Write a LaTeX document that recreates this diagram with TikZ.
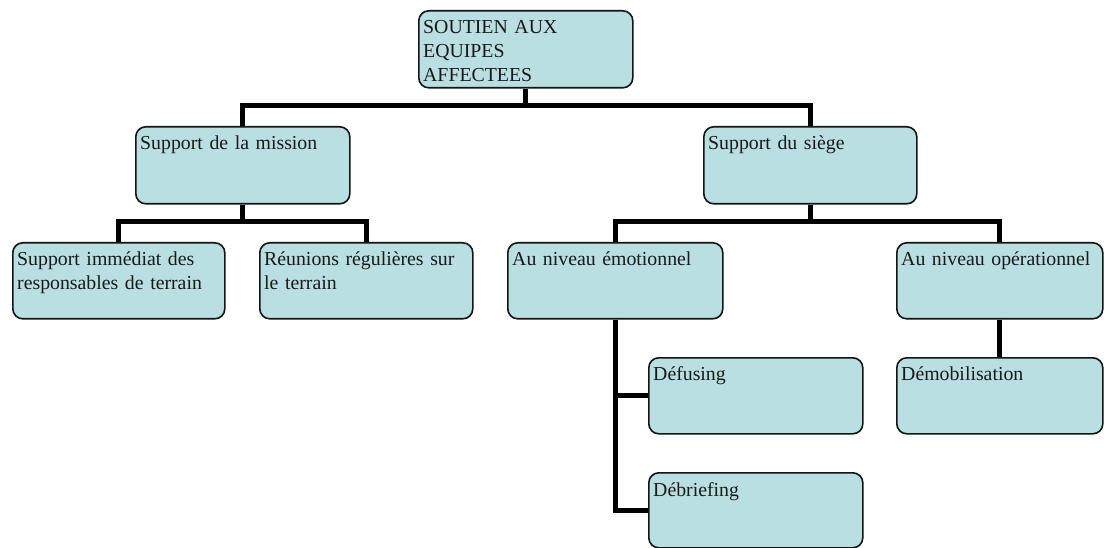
\documentclass[tikz,border=0pt]{standalone}
\usepackage{fontspec}
\setmainfont{Liberation Serif}
\usetikzlibrary{backgrounds}
\definecolor{boxfill}{RGB}{185,223,226}
\definecolor{boxline}{RGB}{20,20,20}
\tikzset{
  bx/.style={draw=boxline, line width=1.6pt, fill=boxfill, rounded corners=10pt,
    inner sep=0pt, anchor=north west},
  txt/.style={anchor=base west, inner sep=0pt, text width=#1, align=left,
    font=\fontsize{19.8}{24}\selectfont, text=black!90},
  conn/.style={line width=5pt, black, line join=miter, line cap=butt},
}
\newcommand\mkbox[6]{%
  \node[bx, minimum width=#4pt, minimum height=#5pt] (#1) at (#2,#3) {};
  \node[txt=#4pt] (#1t) at ([xshift=5pt,yshift=-24pt]#1.north west) {#6};
}
\begin{document}
\begin{tikzpicture}[x=1pt,y=-1pt]
\useasboundingbox (0,0) rectangle (1104,548);
\mkbox{root}{418}{10}{214}{77}{SOUTIEN AUX\\EQUIPES\\AFFECTEES}
\mkbox{mission}{135}{126}{214}{77}{Support de la mission}
\mkbox{siege}{703}{126}{213}{77}{Support du siège}
\mkbox{imm}{12}{242}{212}{76}{Support immédiat des\\responsables de terrain}
\mkbox{reun}{259}{242}{213}{76}{Réunions régulières sur\\le terrain}
\mkbox{emo}{507}{242}{215}{76}{Au niveau émotionnel}
\mkbox{oper}{896}{242}{206}{76}{Au niveau opérationnel}
\mkbox{def}{648}{357}{214}{76}{Défusing}
\mkbox{deb}{648}{472}{214}{75}{Débriefing}
\mkbox{demob}{896}{357}{206}{76}{Démobilisation}
\coordinate (b1) at (0,106);
\coordinate (b2) at (0,222);
\begin{scope}[on background layer]
\fill[white] (0,0) rectangle (1104,548);
\draw[conn] (mission.north) -- (mission.north |- b1) -- (siege.north |- b1) -- (siege.north);
\draw[conn] (root.south) -- (root.south |- b1);
\draw[conn] (imm.north) -- (imm.north |- b2) -- (reun.north |- b2) -- (reun.north);
\draw[conn] (mission.south) -- (mission.south |- b2);
\draw[conn] (emo.north) -- (emo.north |- b2) -- (oper.north |- b2) -- (oper.north);
\draw[conn] (siege.south) -- (siege.south |- b2);
\draw[conn] (emo.south) |- (deb.west);
\draw[conn] (emo.south |- def.west) -- (def.west);
\draw[conn] (oper.south) -- (demob.north);
\end{scope}
\end{tikzpicture}
\end{document}
